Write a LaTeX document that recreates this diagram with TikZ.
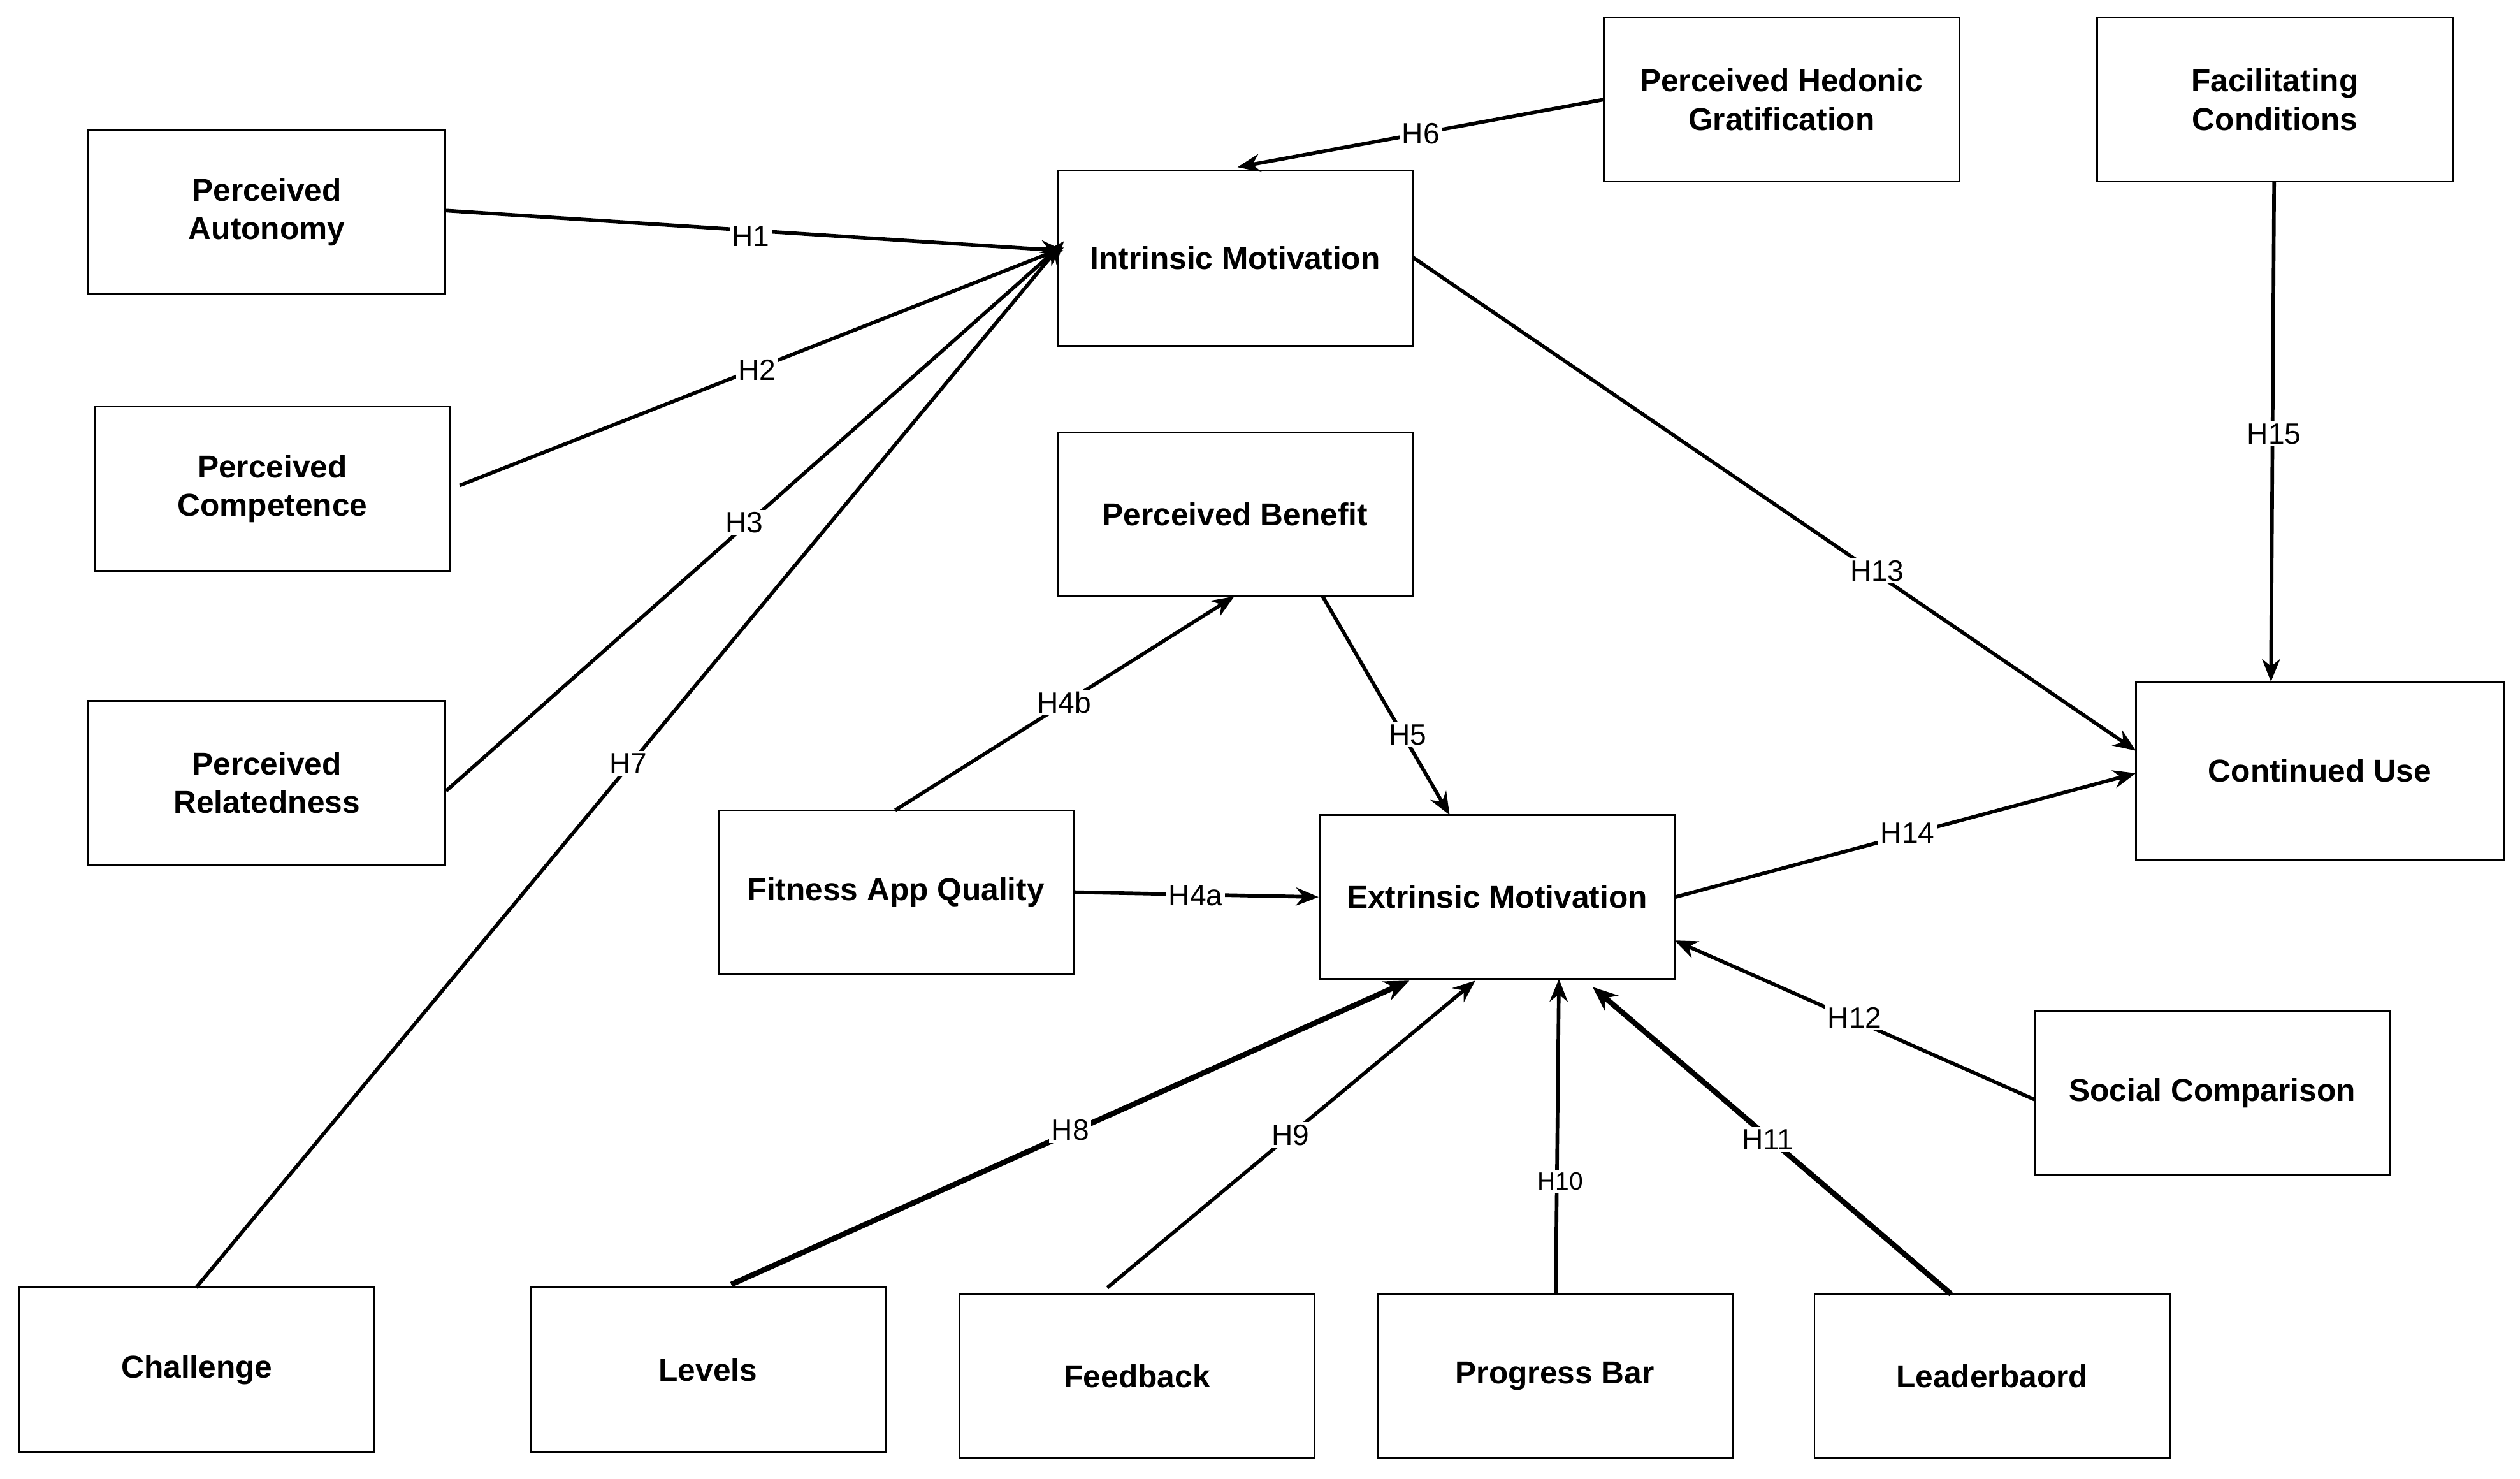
\documentclass[tikz,border=0pt]{standalone}
\usepackage{fontspec}
\setmainfont{Liberation Sans}
\usetikzlibrary{arrows.meta}
\begin{document}
\begin{tikzpicture}[x=0.025cm,y=-0.025cm,
 box/.style={draw,line width=0.8pt,align=center,font=\fontsize{14}{17}\selectfont\bfseries,inner sep=0pt},
 arr/.style={line width=1.6pt,-{Stealth[length=10pt,width=8pt]}},
 thk/.style={line width=2.4pt,-{Stealth[length=11pt,width=9pt]}},
 lab/.style={fill=white,inner sep=1pt,font=\fontsize{13}{15}\selectfont}]
\useasboundingbox (0,0) rectangle (1568,920);
\newcommand{\bx}[6]{\node[box,minimum width={(#4-#2)*0.025cm},minimum height={(#5-#3)*0.025cm}] (#1) at ({(#2+#4)/2},{(#3+#5)/2}) {#6};}
\bx{pa}{55}{81}{277}{183}{Perceived\\Autonomy}
\bx{pc}{59}{253}{280}{355}{Perceived\\Competence}
\bx{pr}{55}{436}{277}{538}{Perceived\\Relatedness}
\bx{ch}{12}{801}{233}{903}{Challenge}
\bx{lv}{330}{801}{551}{903}{Levels}
\bx{fb}{597}{805}{818}{907}{Feedback}
\bx{pgb}{857}{805}{1078}{907}{Progress Bar}
\bx{lb}{1129}{805}{1350}{907}{Leaderbaord}
\bx{sc}{1266}{629}{1487}{731}{Social Comparison}
\bx{cu}{1329}{424}{1558}{535}{Continued Use}
\bx{fc}{1305}{11}{1526}{113}{Facilitating\\Conditions}
\bx{ph}{998}{11}{1219}{113}{Perceived Hedonic\\Gratification}
\bx{im}{658}{106}{879}{215}{Intrinsic Motivation}
\bx{pb}{658}{269}{879}{371}{Perceived Benefit}
\bx{fa}{447}{504}{668}{606}{Fitness App Quality}
\bx{em}{821}{507}{1042}{609}{Extrinsic Motivation}
% coordinates
\coordinate (t1) at (662,156);
\coordinate (t2) at (662,154);
\coordinate (t3) at (661,152);
\coordinate (t7) at (662,150);
\coordinate (s2) at (286,302);
\coordinate (s7) at (122,801);
\coordinate (t6) at (770,104);
\coordinate (t13) at (1329,467);
\coordinate (s13) at (879,160);
\coordinate (s15) at (1415,113);
\coordinate (t15) at (1413,424);
\coordinate (s4b) at (557,504);
\coordinate (t4b) at (768,371);
\coordinate (s5) at (823,371);
\coordinate (t5) at (902,507);
\coordinate (t14) at (1329,481);
\coordinate (s12) at (1266,684);
\coordinate (t12) at (1042,585);
\coordinate (s8) at (455,799);
\coordinate (t8) at (877,610);
\coordinate (s9) at (689,801);
\coordinate (t9) at (918,610);
\coordinate (s10) at (968,805);
\coordinate (t10) at (970,609);
\coordinate (s11) at (1214,805);
\coordinate (t11) at (991,614);
\draw[arr] (pa.east |- 0,131) -- (t1);
\draw[arr] (s2) -- (t2);
\draw[arr] (pr.east |- 0,492) -- (t3);
\draw[arr] (s7) -- (t7);
\draw[arr] (ph.west) -- (t6);
\draw[arr] (s13) -- (t13);
\draw[arr] (s15) -- (t15);
\draw[arr] (s4b) -- (t4b);
\draw[arr] (s5) -- (t5);
\draw[arr] (fa.east) -- (em.west);
\draw[arr] (em.east) -- (t14);
\draw[arr] (s12) -- (t12);
\draw[thk] (s8) -- (t8);
\draw[arr] (s9) -- (t9);
\draw[arr] (s10) -- (t10);
\draw[thk] (s11) -- (t11);
% labels
\node[lab] (l1) at (467,147) {H1};
\node[lab] (l2) at (471,230) {H2};
\node[lab] (l3) at (463,325) {H3};
\node[lab] (l7) at (391,475) {H7};
\node[lab] (l6) at (884,83) {H6};
\node[lab] (l13) at (1168,355) {H13};
\node[lab] (l15) at (1415,270) {H15};
\node[lab] (l4b) at (662,437) {H4b};
\node[lab] (l5) at (876,457) {H5};
\node[lab] (l4a) at (744,557) {H4a};
\node[lab] (l14) at (1187,518) {H14};
\node[lab] (l12) at (1154,633) {H12};
\node[lab] (l8) at (666,703) {H8};
\node[lab] (l9) at (803,706) {H9};
\node[lab,font=\fontsize{11}{13}\selectfont] (l10) at (971,735) {H10};
\node[lab] (l11) at (1100,709) {H11};
\end{tikzpicture}
\end{document}
